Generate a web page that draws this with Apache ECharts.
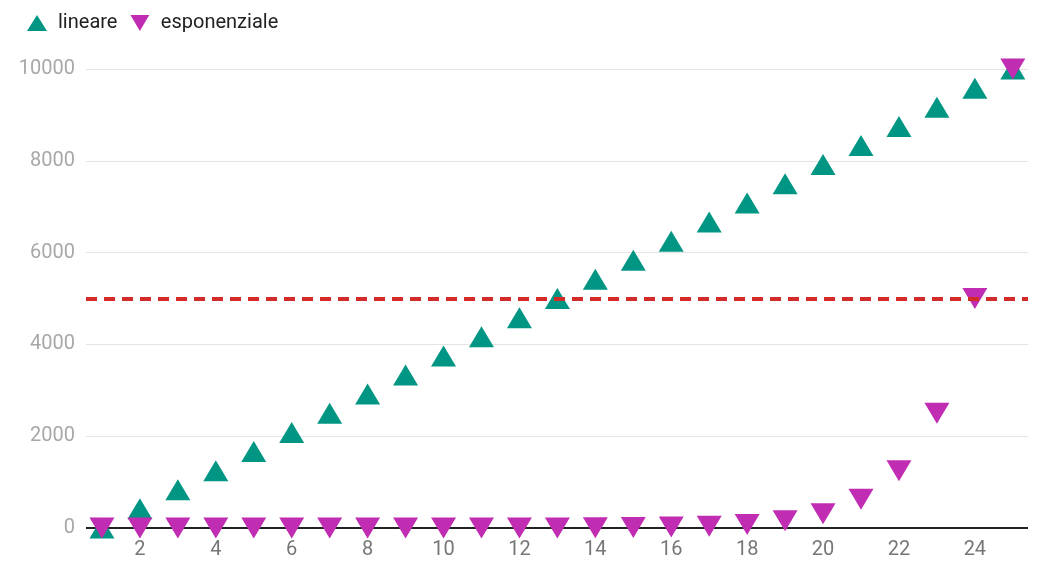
<!DOCTYPE html>
<html>
<head>
<meta charset="utf-8">
<script src="https://cdn.jsdelivr.net/npm/echarts@6/dist/echarts.min.js"></script>
<style>
  html, body { margin: 0; padding: 0; background: #fff; }
  #chart { width: 1038px; height: 563px; }
</style>
</head>
<body>
<div id="chart"></div>
<script>
// Step index 1..25
const steps = [1, 2, 3, 4, 5, 6, 7, 8, 9, 10, 11, 12, 13, 14, 15, 16, 17, 18, 19, 20, 21, 22, 23, 24, 25];

// Linear growth: equal increments up to 10000
const lineare = [0, 416.67, 833.33, 1250, 1666.67, 2083.33, 2500, 2916.67, 3333.33, 3750,
  4166.67, 4583.33, 5000, 5416.67, 5833.33, 6250, 6666.67, 7083.33, 7500, 7916.67,
  8333.33, 8750, 9166.67, 9583.33, 10000];

// Exponential growth: doubling each step up to 10000
const esponenziale = [0.0006, 0.0012, 0.0024, 0.0048, 0.0095, 0.019, 0.038, 0.076, 0.153, 0.305,
  0.61, 1.22, 2.44, 4.88, 9.77, 19.5, 39.1, 78.1, 156.3, 312.5,
  625, 1250, 2500, 5000, 10000];

const xTicks = [2, 4, 6, 8, 10, 12, 14, 16, 18, 20, 22, 24];
const yTicks = [0, 2000, 4000, 6000, 8000, 10000];
const soglia = 5000;

const chart = echarts.init(document.getElementById('chart'), null, { renderer: 'canvas' });

const pair = (ys) => steps.map((x, i) => [x, ys[i]]);

chart.setOption({
  animation: false,
  textStyle: { fontFamily: 'Roboto' },
  legend: {
    left: 22,
    top: 8,
    itemWidth: 20,
    itemHeight: 16,
    itemGap: 13,
    textStyle: { fontSize: 20, color: '#222', fontFamily: 'Roboto', padding: [0, 0, 0, 6] },
    data: [
      { name: 'lineare', icon: 'triangle' },
      { name: 'esponenziale', icon: 'path://M0,0 L10,0 L5,8.5 Z' }
    ]
  },
  grid: { left: 86, right: 10, top: 69, bottom: 35 },
  xAxis: {
    type: 'value',
    min: 0.58,
    max: 25.4,
    splitLine: { show: false },
    axisTick: { show: false },
    axisLine: { show: false },
    axisLabel: {
      customValues: xTicks,
      fontSize: 20,
      color: '#777',
      margin: 12,
      fontFamily: 'Roboto'
    }
  },
  yAxis: {
    type: 'value',
    min: 0,
    max: 10000,
    interval: 2000,
    axisLine: { show: false },
    axisTick: { show: false },
    splitLine: { lineStyle: { color: '#e4e4e4', width: 1 } },
    axisLabel: {
      customValues: yTicks,
      formatter: (v) => String(v),
      fontSize: 20,
      color: '#a8a8a8',
      margin: 11,
      fontFamily: 'Roboto'
    }
  },
  series: [
    {
      name: 'baseline',
      type: 'line',
      data: [[0.58, 0], [25.4, 0]],
      symbol: 'none',
      silent: true,
      lineStyle: { color: '#222', width: 2 },
      z: 1,
      markLine: {
        silent: true,
        symbol: 'none',
        label: { show: false },
        lineStyle: { color: '#d42a2a', width: 4, type: [11, 7] },
        data: [{ yAxis: soglia }]
      }
    },
    {
      name: 'lineare',
      type: 'scatter',
      data: pair(lineare),
      symbol: 'triangle',
      symbolSize: [25, 21],
      clip: false,
      itemStyle: { color: '#009683', opacity: 1 },
      z: 3
    },
    {
      name: 'esponenziale',
      type: 'scatter',
      data: pair(esponenziale),
      symbol: 'triangle',
      symbolRotate: 180,
      symbolSize: [25, 21],
      clip: false,
      itemStyle: { color: '#c02cb2', opacity: 1 },
      z: 4
    }
  ]
});
</script>
</body>
</html>
